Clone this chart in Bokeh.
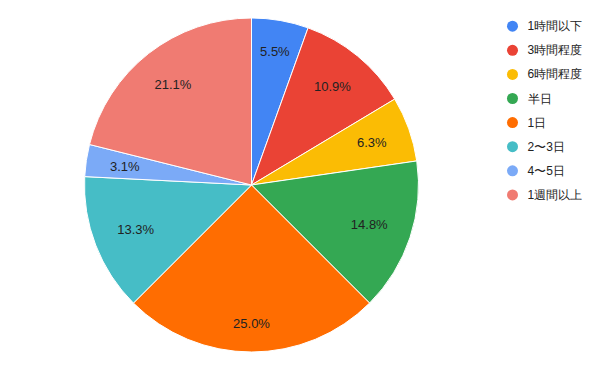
import math
from bokeh.plotting import figure
from bokeh.models import Range1d, ColumnDataSource
from bokeh.core.properties import value
from bokeh.embed import file_html
from bokeh.resources import INLINE

categories = ["1時間以下", "3時間程度", "6時間程度", "半日", "1日", "2〜3日", "4〜5日", "1週間以上"]
values = [5.5, 10.9, 6.3, 14.8, 25.0, 13.3, 3.1, 21.1]
colors = ["#4285F4", "#EA4335", "#FBBC04", "#34A853", "#FF6D01", "#46BDC6", "#7BAAF7", "#F07B72"]

W, H = 584, 355
cx, cy, R = 251, H - 184.5, 167

p = figure(width=W, height=H, output_backend="svg", toolbar_location=None,
           x_range=Range1d(0, W), y_range=Range1d(0, H), min_border=0)
p.axis.visible = False
p.grid.visible = False
p.outline_line_color = None
p.background_fill_color = "white"

total = sum(values)
starts, ends, lx, ly, labels = [], [], [], [], []
cum = 0.0
for v in values:
    f0 = cum / total
    f1 = (cum + v) / total
    cum += v
    starts.append(math.pi / 2 - 2 * math.pi * f1)
    ends.append(math.pi / 2 - 2 * math.pi * f0)
    mid = (f0 + f1) / 2 * 2 * math.pi  # clockwise from top
    ux, uy = math.sin(mid), math.cos(mid)
    txt = f"{v:.1f}%"
    hw = 3.9 * len(txt)
    hh = 6
    d = 0.865 * R - (hw * abs(ux) + hh * abs(uy))
    lx.append(cx + d * ux)
    ly.append(cy + d * uy)
    labels.append(txt)

src = ColumnDataSource(dict(start=starts, end=ends, color=colors))
p.wedge(x=cx, y=cy, radius=R, start_angle="start", end_angle="end",
        fill_color="color", line_color="white", line_width=1, source=src)

p.text(x=lx, y=ly, text=labels, text_align="center", text_baseline="middle",
       text_font=value("Liberation Sans"), text_font_size="13px", text_color="#222222")

# legend
leg_x, leg_y0, leg_dy = 512, H - 25.7, 24.1
lgx = [leg_x] * len(categories)
lgy = [leg_y0 - i * leg_dy for i in range(len(categories))]
p.scatter(x=lgx, y=lgy, size=11, marker="circle", fill_color=colors, line_color=None)
p.text(x=[leg_x + 15] * len(categories), y=lgy, text=categories, text_align="left",
       text_baseline="middle", text_font=value("Liberation Sans"), text_font_size="12px",
       text_color="#222222")

open("out.html", "w").write(file_html(p, INLINE))
